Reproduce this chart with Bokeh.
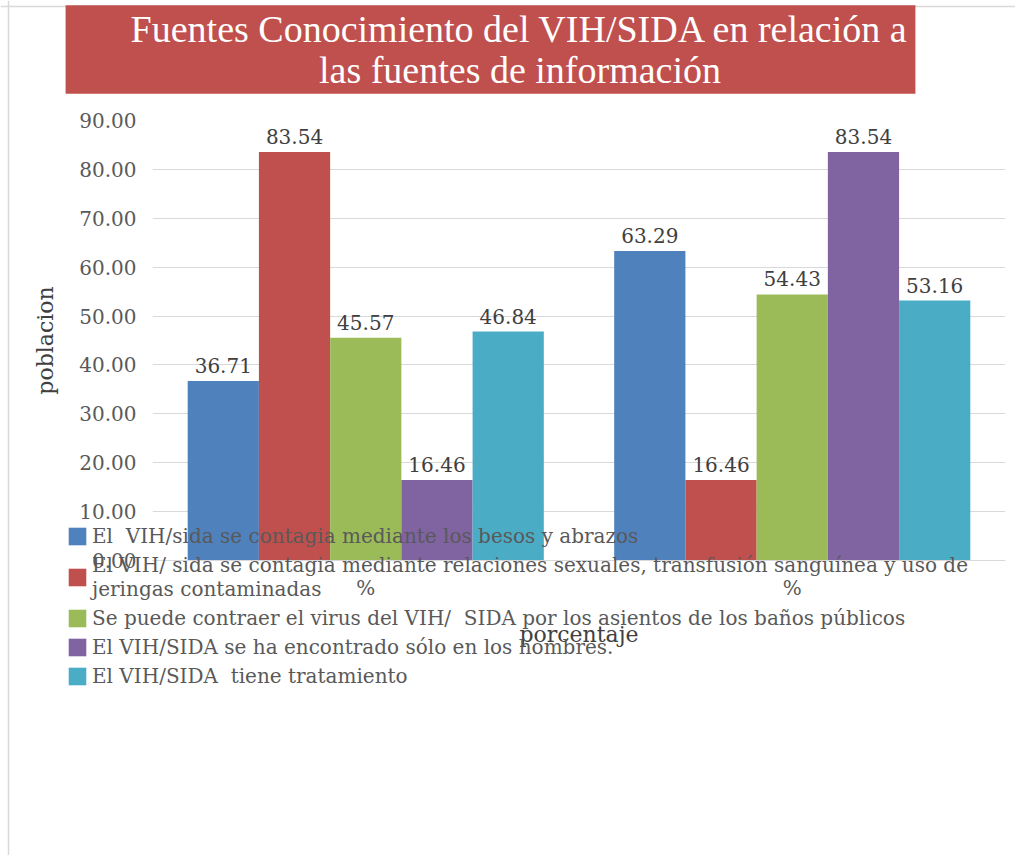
from bokeh.plotting import figure
from bokeh.layouts import column
from bokeh.models import (Range1d, FixedTicker, NumeralTickFormatter, Legend,
                          LegendItem, Label, ColumnDataSource, Span)
from bokeh.embed import file_html
from bokeh.resources import INLINE
from bokeh.core.properties import value

# ---------------- data ----------------
title_text = "Fuentes Conocimiento del VIH/SIDA en relación a\nlas fuentes de información"
categories = ["%", "%"]
series_names = [
    "El  VIH/sida se contagia mediante los besos y abrazos",
    "El VIH/ sida se contagia mediante relaciones sexuales, transfusión sanguínea y uso de\njeringas contaminadas",
    "Se puede contraer el virus del VIH/  SIDA por los asientos de los baños públicos",
    "El VIH/SIDA se ha encontrado sólo en los hombres.",
    "El VIH/SIDA  tiene tratamiento",
]
besos = [36.71, 63.29]
relaciones = [83.54, 16.46]
banos = [45.57, 54.43]
hombres = [16.46, 83.54]
tratamiento = [46.84, 53.16]
series_values = [besos, relaciones, banos, hombres, tratamiento]
colors = ["#4F81BD", "#C0504D", "#9BBB59", "#8064A2", "#4BACC6"]
y_ticks = [0, 10, 20, 30, 40, 50, 60, 70, 80, 90]
y_label = "poblacion"
x_label = "porcentaje"

FONT = "DejaVu Serif"
W, H = 1015, 855

p = figure(width=W, height=H, x_range=Range1d(0, 2), y_range=Range1d(0, 90),
           output_backend="svg", toolbar_location=None,
           min_border_left=152, min_border_right=10, min_border_top=120,
           min_border_bottom=295)
p.frame_align = False
p.outline_line_color = None
p.background_fill_color = "white"
p.border_fill_color = "white"

group_width = 0.835
n = len(series_values)
bw = group_width / n
centers = [i + 0.5 for i in range(len(categories))]

for k, (name, vals) in enumerate(zip(series_names, series_values)):
    xs = [c + (k - (n - 1) / 2) * bw for c in centers]
    src = ColumnDataSource(dict(x=xs, top=vals, lab=[f"{v:.2f}" for v in vals]))
    p.vbar(x="x", top="top", width=bw, source=src, fill_color=colors[k],
           line_color=None)
    p.text(x="x", y="top", text="lab", source=src, text_align="center",
           text_baseline="bottom", y_offset=-8, text_font=value(FONT),
           text_font_size="20px", text_color="#404040")

# axes
p.yaxis.ticker = FixedTicker(ticks=y_ticks)
p.yaxis.formatter = NumeralTickFormatter(format="0.00")
p.yaxis.axis_line_color = None
p.yaxis.major_tick_line_color = None
p.yaxis.minor_tick_line_color = None
p.yaxis.major_label_standoff = 10
p.yaxis.major_label_text_font = FONT
p.yaxis.major_label_text_font_size = "20px"
p.yaxis.major_label_text_color = "#595959"
p.yaxis.axis_label = y_label
p.yaxis.axis_label_text_font = FONT
p.yaxis.axis_label_text_font_size = "22px"
p.yaxis.axis_label_text_font_style = "normal"
p.yaxis.axis_label_text_color = "#404040"
p.yaxis.axis_label_standoff = 18

p.xaxis.ticker = FixedTicker(ticks=centers)
p.xaxis.major_label_overrides = {c: lab for c, lab in zip(centers, categories)}
p.xaxis.axis_line_color = "#d9d9d9"
p.xaxis.major_tick_line_color = None
p.xaxis.minor_tick_line_color = None
p.xaxis.major_label_standoff = 9
p.xaxis.major_label_text_font = FONT
p.xaxis.major_label_text_font_size = "20px"
p.xaxis.major_label_text_color = "#595959"
p.xaxis.axis_label = x_label
p.xaxis.axis_label_text_font = FONT
p.xaxis.axis_label_text_font_size = "22px"
p.xaxis.axis_label_text_font_style = "normal"
p.xaxis.axis_label_text_color = "#404040"
p.xaxis.axis_label_standoff = 19

p.xgrid.grid_line_color = None
p.ygrid.ticker = FixedTicker(ticks=y_ticks)
p.ygrid.grid_line_color = "#d9d9d9"

# ---- transparent overlay figure (same size) for the title box, legend, border ----
ov = figure(width=W, height=H, x_range=Range1d(0, W), y_range=Range1d(H, 0),
            output_backend="svg", toolbar_location=None,
            x_axis_type=None, y_axis_type=None,
            min_border_left=0, min_border_right=0, min_border_top=0,
            min_border_bottom=0, margin=(-H, 0, 0, 0))
ov.frame_align = False
ov.grid.visible = False
ov.outline_line_color = None
ov.background_fill_alpha = 0
ov.border_fill_alpha = 0

# chart-area border (top and left edges visible in the window)
ov.add_layout(Span(location=6, dimension="width", line_color="#d9d9d9", line_width=1.5))
ov.add_layout(Span(location=8, dimension="height", line_color="#d9d9d9", line_width=1.5))

items = []
for k, name in enumerate(series_names):
    # zero-size proxy bar: only provides the legend swatch colour
    r = ov.vbar(x=[0], top=[0], bottom=[0], width=0, fill_color=colors[k], line_color=None)
    items.append(LegendItem(label=name, renderers=[r]))

legend = Legend(items=items, location=(66, H - 688), background_fill_alpha=0,
                border_line_color=None, padding=0, margin=0,
                label_text_font=FONT, label_text_font_size="20px",
                label_text_color="#595959", glyph_width=22, glyph_height=22,
                label_standoff=4, spacing=5, label_text_line_height=1.45)
ov.add_layout(legend, "center")

title = Label(x=490, y=H - 49, x_units="screen", y_units="screen", text=title_text,
              anchor="center", text_align="center",
              text_font="Liberation Serif", text_font_size="38px",
              text_color="white", background_fill_color="#C0504D",
              padding=dict(left=65, right=6, top=3, bottom=3),
              text_line_height=0.97)
ov.add_layout(title)

layout = column(p, ov)
open("out.html", "w").write(file_html(layout, INLINE))
